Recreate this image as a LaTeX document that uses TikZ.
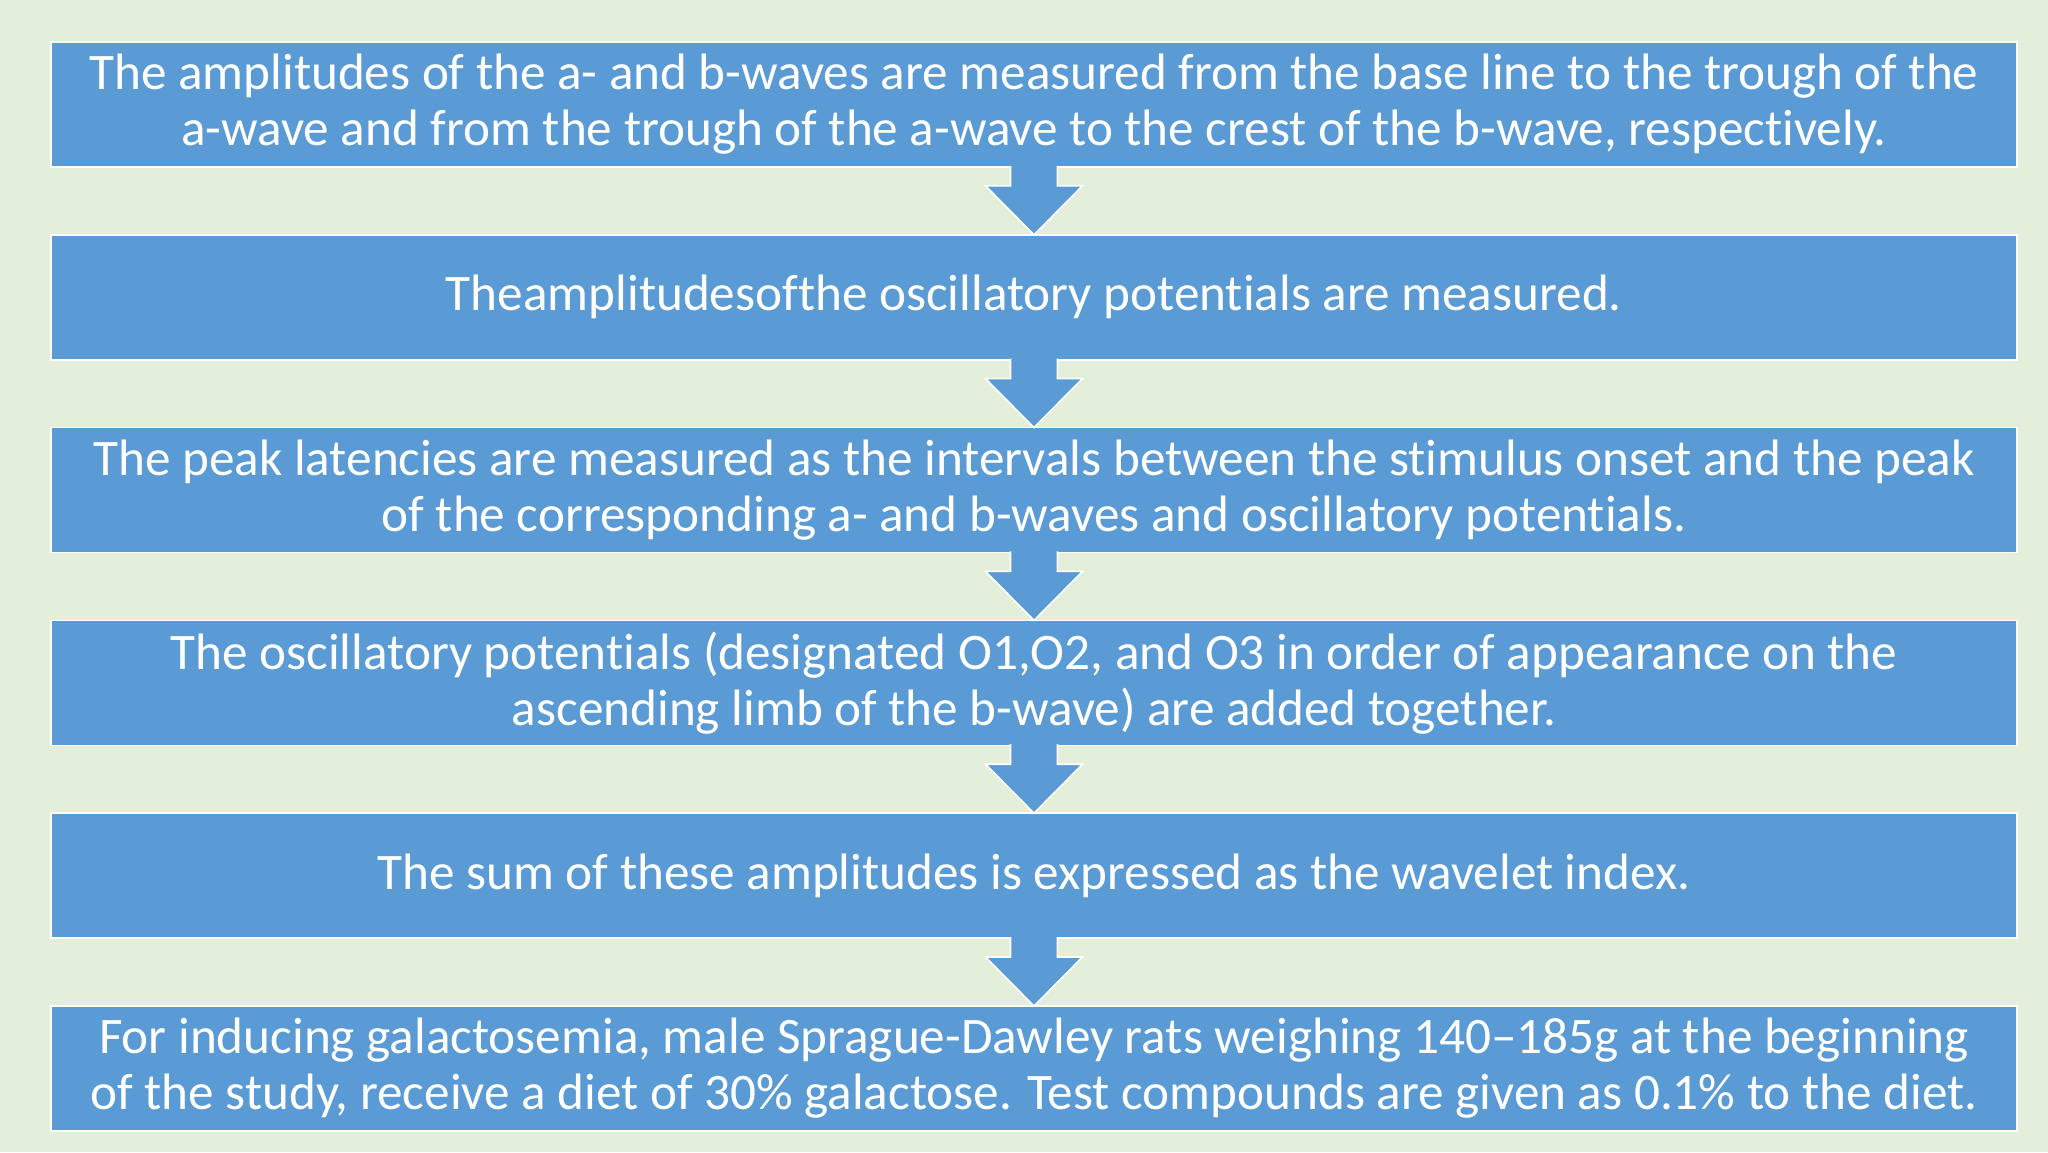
\documentclass[tikz,border=0pt]{standalone}
\usepackage{fontspec}
\setmainfont{Carlito}[Ligatures=NoCommon]
\usepackage{xcolor}
\usetikzlibrary{positioning, calc}
\definecolor{bgGreen}{HTML}{E3EFDA}
\definecolor{boxBlue}{HTML}{5B9BD5}
\tikzstyle{process} = [rectangle, minimum width=983pt, minimum height=62.5pt, inner sep=0pt, outer sep=0pt, align=center, text=white, draw=white, line width=0.8pt, fill=boxBlue, font=\fontsize{25.6}{28}\selectfont]
\tikzstyle{arrow} = [fill=boxBlue, draw=white, line width=0.8pt, line join=miter]
% block arrow from the bottom of #1 to the top of #2
\newcommand{\blockarrow}[2]{%
  \filldraw[arrow] ($(#1.south)+(-11.75pt,0.6pt)$) -- ($(#2.north)+(-11.75pt,24.5pt)$)
    -- ($(#2.north)+(-24.25pt,24.5pt)$) -- (#2.north) -- ($(#2.north)+(24.25pt,24.5pt)$)
    -- ($(#2.north)+(11.75pt,24.5pt)$) -- ($(#1.south)+(11.75pt,0.6pt)$);}
\begin{document}
\begin{tikzpicture}[node distance=33.9pt]

    % Sfondo
    \fill[bgGreen] (0,0) rectangle (1024pt,-576pt);
    \useasboundingbox (0,0) rectangle (1024pt,-576pt);

    % Blocchi
    \node (abWave) [process, anchor=north] at (517pt,-21pt) {The amplitudes of the a- and b-waves are measured from the base line to the trough of the\\a-wave and from the trough of the a-wave to the crest of the b-wave, respectively.};
    \node (oscAmp) [process, below=of abWave] {Theamplitudesofthe oscillatory potentials are measured.};
    \node (peakLat) [process, below=of oscAmp] {The peak latencies are measured as the intervals between the stimulus onset and the peak\\of the corresponding a- and b-waves and oscillatory potentials.};
    \node (oscSum) [process, below=of peakLat] {The oscillatory potentials (designated O1,O2, and O3 in order of appearance on the\\ascending limb of the b-wave) are added together.};
    \node (waveIdx) [process, below=of oscSum] {The sum of these amplitudes is expressed as the wavelet index.};
    \node (galDiet) [process, below=of waveIdx] {For inducing galactosemia, male Sprague-Dawley rats weighing 140–185g at the beginning\\of the study, receive a diet of 30\% galactose. Test compounds are given as 0.1\% to the diet.};

    % Frecce
    \blockarrow{abWave}{oscAmp}
    \blockarrow{oscAmp}{peakLat}
    \blockarrow{peakLat}{oscSum}
    \blockarrow{oscSum}{waveIdx}
    \blockarrow{waveIdx}{galDiet}

\end{tikzpicture}
\end{document}
